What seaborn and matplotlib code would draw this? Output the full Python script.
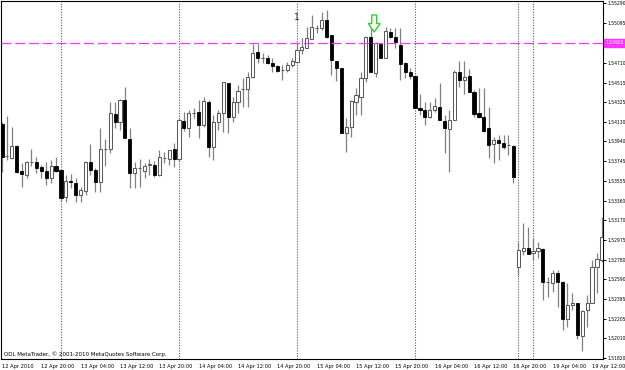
import matplotlib
matplotlib.use("Agg")
import matplotlib.pyplot as plt
import matplotlib.transforms as mtransforms
from matplotlib import font_manager
from matplotlib.font_manager import FontProperties
from matplotlib.patches import Polygon
import seaborn as sns
import numpy as np
import pandas as pd

# ---------------- data (hourly OHLC) ----------------
opens = [1.54110, 1.53797, 1.53778, 1.53894, 1.53650, 1.53611, 1.53738, 1.53738, 1.53689, 1.53650,
         1.53582, 1.53699, 1.53660, 1.53395, 1.53552, 1.53533, 1.53415, 1.53454, 1.53738, 1.53660,
         1.53542, 1.53865, 1.53865, 1.54208, 1.54129, 1.54345, 1.53963, 1.53631, 1.53680, 1.53650,
         1.53709, 1.53709, 1.53611, 1.53778, 1.53768, 1.53865, 1.53768, 1.54139, 1.54071, 1.54218,
         1.54227, 1.54100, 1.54325, 1.53884, 1.54129, 1.54218, 1.54512, 1.54178, 1.54325, 1.54453,
         1.54453, 1.54570, 1.54815, 1.54757, 1.54757, 1.54708, 1.54678, 1.54639, 1.54639, 1.54688,
         1.54717, 1.54835, 1.54854, 1.54942, 1.55049, 1.55049, 1.55128, 1.54981, 1.54727, 1.54659,
         1.54022, 1.54080, 1.54325, 1.54374, 1.54561, 1.54962, 1.54610, 1.54893, 1.54757, 1.55010,
         1.54962, 1.54883, 1.54708, 1.54619, 1.54580, 1.54267, 1.54247, 1.54178, 1.54247, 1.54276,
         1.54139, 1.54061, 1.54149, 1.54619, 1.54541, 1.54580, 1.54423, 1.54218, 1.54178, 1.54071,
         1.53914, 1.53953, 1.53924, 1.53904, 1.53894, 1.52710, 1.52867, 1.52896, 1.52848, 1.52867,
         1.52886, 1.52563, 1.52554, 1.52652, 1.52563, 1.52201, 1.52338, 1.52358, 1.52034, 1.52289,
         1.52358, 1.52710, 1.52779]
highs = [1.54129, 1.54188, 1.54080, 1.53904, 1.53729, 1.53748, 1.53865, 1.53787, 1.53709, 1.53738,
         1.53758, 1.53787, 1.53665, 1.53611, 1.53621, 1.53582, 1.53493, 1.53745, 1.53914, 1.53680,
         1.54071, 1.53963, 1.54325, 1.54325, 1.54350, 1.54472, 1.54071, 1.53738, 1.53768, 1.53729,
         1.53768, 1.53748, 1.53856, 1.53836, 1.53860, 1.53924, 1.54168, 1.54227, 1.54247, 1.54267,
         1.54345, 1.54374, 1.54345, 1.54198, 1.54247, 1.54525, 1.54516, 1.54374, 1.54492, 1.54561,
         1.54619, 1.54893, 1.54893, 1.54806, 1.54786, 1.54757, 1.54688, 1.54688, 1.54717, 1.54757,
         1.54893, 1.54952, 1.55059, 1.55177, 1.55079, 1.55206, 1.55226, 1.54985, 1.54730, 1.54662,
         1.54168, 1.54345, 1.54463, 1.54619, 1.54972, 1.55069, 1.54913, 1.54897, 1.55059, 1.55049,
         1.55049, 1.55049, 1.54712, 1.54659, 1.54585, 1.54404, 1.54325, 1.54325, 1.54365, 1.54512,
         1.54198, 1.54247, 1.54639, 1.54727, 1.54727, 1.54649, 1.54443, 1.54463, 1.54463, 1.54276,
         1.53982, 1.54002, 1.54002, 1.54002, 1.53904, 1.52954, 1.53141, 1.53102, 1.52994, 1.52954,
         1.52896, 1.52612, 1.52681, 1.52681, 1.52568, 1.52554, 1.52456, 1.52362, 1.52289, 1.52436,
         1.52779, 1.52848, 1.53199]
lows = [1.53640, 1.53758, 1.53768, 1.53631, 1.53493, 1.53582, 1.53699, 1.53631, 1.53582, 1.53513,
        1.53533, 1.53640, 1.53356, 1.53346, 1.53480, 1.53346, 1.53346, 1.53415, 1.53611, 1.53444,
        1.53444, 1.53700, 1.53827, 1.54071, 1.54051, 1.53968, 1.53484, 1.53484, 1.53493, 1.53582,
        1.53611, 1.53591, 1.53601, 1.53729, 1.53709, 1.53689, 1.53748, 1.54041, 1.53982, 1.54168,
        1.53973, 1.54080, 1.53787, 1.53758, 1.54051, 1.54031, 1.54022, 1.54129, 1.54218, 1.54276,
        1.54276, 1.54565, 1.54708, 1.54708, 1.54698, 1.54619, 1.54619, 1.54541, 1.54619, 1.54668,
        1.54712, 1.54796, 1.54850, 1.54940, 1.55001, 1.55030, 1.54952, 1.54590, 1.54531, 1.54018,
        1.53836, 1.53982, 1.54198, 1.54198, 1.54521, 1.54615, 1.54570, 1.54752, 1.54752, 1.54952,
        1.54854, 1.54541, 1.54561, 1.54551, 1.54262, 1.54198, 1.54100, 1.54168, 1.54227, 1.54145,
        1.53827, 1.53640, 1.54145, 1.54472, 1.54404, 1.54420, 1.54178, 1.54168, 1.54031, 1.53778,
        1.53729, 1.53758, 1.53865, 1.53807, 1.53533, 1.52632, 1.52828, 1.52834, 1.52779, 1.52799,
        1.52387, 1.52416, 1.52465, 1.52318, 1.52093, 1.52122, 1.52289, 1.52005, 1.51888, 1.52122,
        1.52353, 1.52456, 1.52760]
closes = [1.53787, 1.53800, 1.53894, 1.53640, 1.53621, 1.53738, 1.53741, 1.53680, 1.53650, 1.53582,
          1.53699, 1.53650, 1.53386, 1.53552, 1.53542, 1.53415, 1.53464, 1.53738, 1.53660, 1.53542,
          1.53865, 1.53868, 1.54218, 1.54129, 1.54345, 1.53973, 1.53631, 1.53680, 1.53683, 1.53699,
          1.53719, 1.53611, 1.53787, 1.53781, 1.53856, 1.53768, 1.54149, 1.54071, 1.54218, 1.54221,
          1.54100, 1.54335, 1.53884, 1.54129, 1.54218, 1.54521, 1.54178, 1.54325, 1.54433, 1.54456,
          1.54570, 1.54806, 1.54757, 1.54760, 1.54708, 1.54678, 1.54629, 1.54642, 1.54688, 1.54727,
          1.54835, 1.54864, 1.54952, 1.55059, 1.55052, 1.55128, 1.54962, 1.54737, 1.54659, 1.54022,
          1.54080, 1.54335, 1.54394, 1.54561, 1.54962, 1.54619, 1.54903, 1.54757, 1.55020, 1.54962,
          1.54913, 1.54698, 1.54619, 1.54580, 1.54267, 1.54247, 1.54178, 1.54247, 1.54286, 1.54149,
          1.54071, 1.54149, 1.54619, 1.54541, 1.54570, 1.54423, 1.54208, 1.54178, 1.54041, 1.53904,
          1.53953, 1.53924, 1.53884, 1.53907, 1.53591, 1.52877, 1.52896, 1.52838, 1.52867, 1.52896,
          1.52563, 1.52566, 1.52652, 1.52563, 1.52201, 1.52338, 1.52358, 1.52044, 1.52279, 1.52358,
          1.52710, 1.52788, 1.53002]

time_labels = ["12 Apr 2010", "12 Apr 20:00", "13 Apr 04:00", "13 Apr 12:00", "13 Apr 20:00",
               "14 Apr 04:00", "14 Apr 12:00", "14 Apr 20:00", "15 Apr 04:00", "15 Apr 12:00",
               "15 Apr 20:00", "16 Apr 04:00", "16 Apr 12:00", "16 Apr 20:00", "19 Apr 04:00",
               "19 Apr 12:00"]
label_every = 8
price_ticks = [1.55290, 1.55095, 1.54710, 1.54515, 1.54325, 1.54130, 1.53940, 1.53745, 1.53555,
               1.53360, 1.53170, 1.52975, 1.52780, 1.52590, 1.52395, 1.52205, 1.52010, 1.51820]
level_price = 1.54905
level_text = "1.54905"
separator_bars = [12, 36, 60, 84, 105, 108]
signal_bar = 75.7
signal_top, signal_tip = 1.55177, 1.55010
marker_bar, marker_price, marker_text = 60, 1.55155, "1"
copyright_text = "ODL MetaTrader, \u00a9 2001-2010 MetaQuotes Software Corp."

df = pd.DataFrame({"open": opens, "high": highs, "low": lows, "close": closes})
df["bar"] = np.arange(len(df))

# ---------------- style ----------------
sns.set_theme(style="white")
plt.rcParams["font.family"] = ["DejaVu Sans"]

# pick the narrowest available sans font (MetaTrader's UI font is very condensed)
def _stretch_val(s):
    table = {"ultra-condensed": 100, "extra-condensed": 200, "condensed": 300,
             "semi-condensed": 400, "normal": 500}
    if isinstance(s, (int, float)):
        return s
    return table.get(str(s), 500)

font_path = None
best = 999
pref = ["Liberation Sans Narrow", "DejaVu Sans", "Roboto Condensed", "Open Sans Condensed",
        "Roboto", "Open Sans", "Noto Sans"]
for f in font_manager.fontManager.ttflist:
    narrow_name = ("Narrow" in f.name) or ("Condensed" in f.name) or ("Condensed" in f.fname) \
        or ("Narrow" in f.fname)
    narrow_st = _stretch_val(f.stretch) < 500 or narrow_name
    if not narrow_st:
        continue
    if f.weight not in (400, "normal", "regular", "book"):
        continue
    if f.style != "normal":
        continue
    base = next((i for i, p in enumerate(pref) if f.name.startswith(p)), len(pref))
    if base < best:
        best = base
        font_path = f.fname
if font_path is None:
    font_path = font_manager.findfont(FontProperties(family="DejaVu Sans"))

fig = plt.figure(figsize=(6.25, 3.70), dpi=100)
fig.patch.set_facecolor("white")
renderer = fig.canvas.get_renderer()


def fit_size(text, target_px):
    t = fig.text(0, 0, text, fontproperties=FontProperties(fname=font_path, size=10))
    w = t.get_window_extent(renderer=renderer).width
    t.remove()
    return 10 * target_px / w


fs_x = min(fit_size("12 Apr 20:00", 33.0), 6.5)
fs_y = min(fit_size("1.55290", 18.5), 6.5)
fs_c = min(fit_size(copyright_text, 163.0), 6.5)
fp_x = FontProperties(fname=font_path, size=fs_x)
fp_y = FontProperties(fname=font_path, size=fs_y)
fp_c = FontProperties(fname=font_path, size=fs_c)

ax = fig.add_axes([1 / 625, 11 / 370, 602 / 625, 358 / 370])
ax.set_facecolor("white")

bull = df["close"] >= df["open"]
wick_c = "#808080"
ax.vlines(df["bar"], df["low"], df["high"], color=wick_c, lw=0.9, zorder=2)
bw = 0.64
bodies_b = df[~bull]
ax.bar(bodies_b["bar"], (bodies_b["open"] - bodies_b["close"]).clip(lower=0.00001),
       bottom=bodies_b["close"], width=bw, color="black", edgecolor="black", lw=0.6, zorder=3)
bodies_w = df[bull]
ax.bar(bodies_w["bar"], (bodies_w["close"] - bodies_w["open"]).clip(lower=0.00001),
       bottom=bodies_w["open"], width=bw, color="white", edgecolor="#5a5a5a", lw=0.75, zorder=3)

for b in separator_bars:
    ax.axvline(b, color="#555555", lw=0.8, ls=(0, (1, 1.4)), zorder=1)

ax.axhline(level_price, color="#ff33ff", lw=0.9, dashes=(8, 3), zorder=4)

# sell-signal arrow (outlined, pointing down)
w_head, w_stem = 1.2, 0.5
mid = signal_top + (signal_tip - signal_top) * 0.5
arrow = Polygon([(signal_bar - w_stem, signal_top), (signal_bar + w_stem, signal_top),
                 (signal_bar + w_stem, mid), (signal_bar + w_head, mid),
                 (signal_bar, signal_tip), (signal_bar - w_head, mid),
                 (signal_bar - w_stem, mid)], closed=True,
                facecolor="white", edgecolor="#33cc33", lw=1.0, zorder=5)
ax.add_patch(arrow)

ax.text(marker_bar, marker_price, marker_text, ha="center", va="center",
        fontsize=6.5, color="#222222", zorder=5)

ax.text(0.005, 0.014, copyright_text, transform=ax.transAxes, ha="left", va="center",
        fontproperties=fp_c, color="black", zorder=6)

# axes limits
ax.set_xlim(-0.2, 122.23)
ax.set_ylim(1.51809, 1.55314)

# x ticks
ticks_x = list(range(0, label_every * len(time_labels), label_every))
ax.set_xticks(ticks_x)
ax.set_xticklabels(time_labels, ha="left")
for lab in ax.get_xticklabels():
    lab.set_fontproperties(fp_x)
ax.tick_params(axis="x", direction="out", length=2.4, width=0.7, pad=1.2, colors="black")

# y ticks on the right
ax.yaxis.tick_right()
ax.set_yticks(price_ticks)
ax.set_yticklabels([f"{p:.5f}" for p in price_ticks])
for lab in ax.get_yticklabels():
    lab.set_fontproperties(fp_y)
ax.tick_params(axis="y", direction="out", length=2.2, width=0.7, pad=0.8, colors="black")

trans = mtransforms.blended_transform_factory(ax.transAxes, ax.transData)
ax.text(1.0 + 2.6 / 602, level_price, level_text, transform=trans, ha="left", va="center",
        fontproperties=fp_y, color="white", clip_on=False, zorder=7,
        bbox=dict(boxstyle="square,pad=0.3", facecolor="#ff33ff", edgecolor="#ff33ff"))

for s in ax.spines.values():
    s.set_visible(True)
    s.set_color("black")
    s.set_linewidth(0.8)
ax.grid(False)

fig.savefig("out.png", dpi=100, facecolor="white")
